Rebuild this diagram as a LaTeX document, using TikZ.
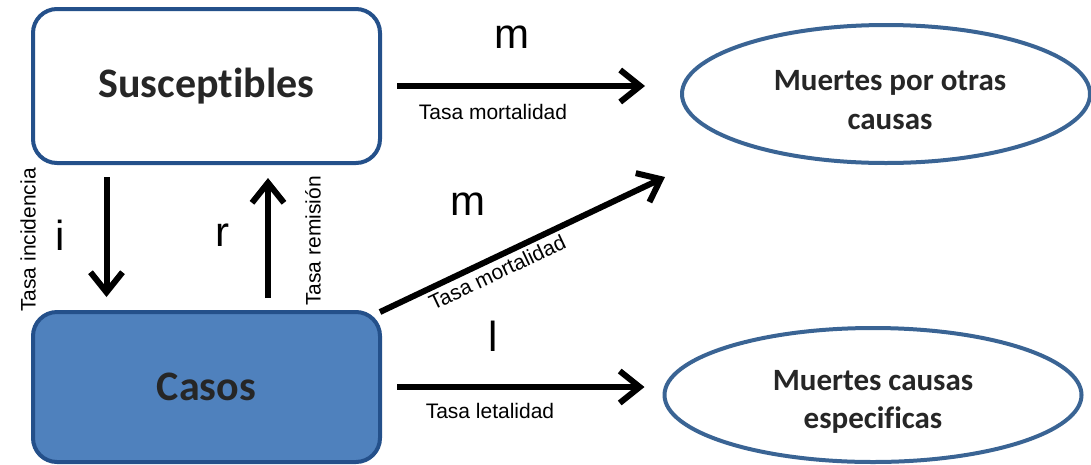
\documentclass[tikz,border=0pt]{standalone}
\usepackage{fontspec}
\setmainfont{Liberation Sans}
\newfontfamily\calfont[Ligatures=NoCommon]{Carlito}
\usetikzlibrary{arrows.meta, calc, positioning, shapes.geometric}
\definecolor{boxline}{HTML}{24508A}
\definecolor{ovalline}{HTML}{3A6494}
\definecolor{casofill}{HTML}{4F81BD}
\definecolor{boxtext}{HTML}{262626}
\tikzset{
    stock/.style={draw=boxline, line width=4pt, rounded corners=24pt, outer sep=0pt,
        minimum width=347pt, inner sep=0pt, text=boxtext,
        font=\calfont\bfseries\fontsize{42}{50}\selectfont},
    death/.style={ellipse, draw=ovalline, line width=4pt, outer sep=0pt, inner sep=0pt},
    deathtext/.style={align=center, inner sep=0pt, text=boxtext,
        font=\calfont\bfseries\fontsize{31}{38.5}\selectfont},
    flow/.style={line width=6pt, -{Straight Barb[length=20pt,width=32pt]}},
    rate/.style={inner sep=2pt, font=\fontsize{21}{24}\selectfont},
    letter/.style={inner sep=0pt, font=\fontsize{42}{48}\selectfont}
}
\begin{document}
\begin{tikzpicture}[x=1pt, y=-1pt]
    \useasboundingbox (0,0) rectangle (1091,464);
    % compartments
    \node[stock, minimum height=154pt, fill=white] (sus) at (206.5,86) {Susceptibles};
    \node[stock, minimum height=150pt, fill=casofill] (casos) at (206.5,387) {Casos};
    \node[death, minimum width=408pt, minimum height=138pt] (otras) at (886,94) {};
    \node[death, minimum width=417pt, minimum height=134pt] (espec) at (873,395) {};
    \node[deathtext] (otrastxt) at ($(otras.center)+(4,6)$) {Muertes por otras\\causas};
    \node[deathtext] (especTxt) at ($(espec.center)+(0,7)$) {Muertes causas\\especificas};
    \coordinate (diagtip) at ($(otras.center)+(-221,83)$);
    % flows
    \draw[flow] ($(sus.east)+(17,0)$) -- ($(sus.east -| otras.west)+(-37,0)$);
    \draw[flow] ($(casos.east)+(17,0)$) -- ($(casos.east -| espec.west)+(-20,0)$);
    \draw[flow] ($(sus.south)+(-100,14)$) -- ($(casos.north)+(-100,-15)$);
    \draw[flow] ($(casos.north)+(61.5,-14)$) -- ($(sus.south)+(61.5,15)$);
    \draw[flow] (casos.north east) -- node[rate, sloped, pos=0.39, below, inner sep=3.5pt] (tmort2) {Tasa mortalidad} (diagtip);
    % rates
    \node[letter] (li) at (60,235) {i};
    \node[letter] (lr) at (222,235) {r};
    \node[letter] (lm1) at (512,37) {m};
    \node[letter] (lm2) at (468,204) {m};
    \node[letter] (ll) at (493,336) {l};
    \node[rate] (tmort1) at (493,112) {Tasa mortalidad};
    \node[rate] (tleta) at (490,411) {Tasa letalidad};
    \node[rate, rotate=90] (tinc) at (28,240) {Tasa incidencia};
    \node[rate, rotate=90] (trem) at (313,241) {Tasa remisión};
\end{tikzpicture}
\end{document}
